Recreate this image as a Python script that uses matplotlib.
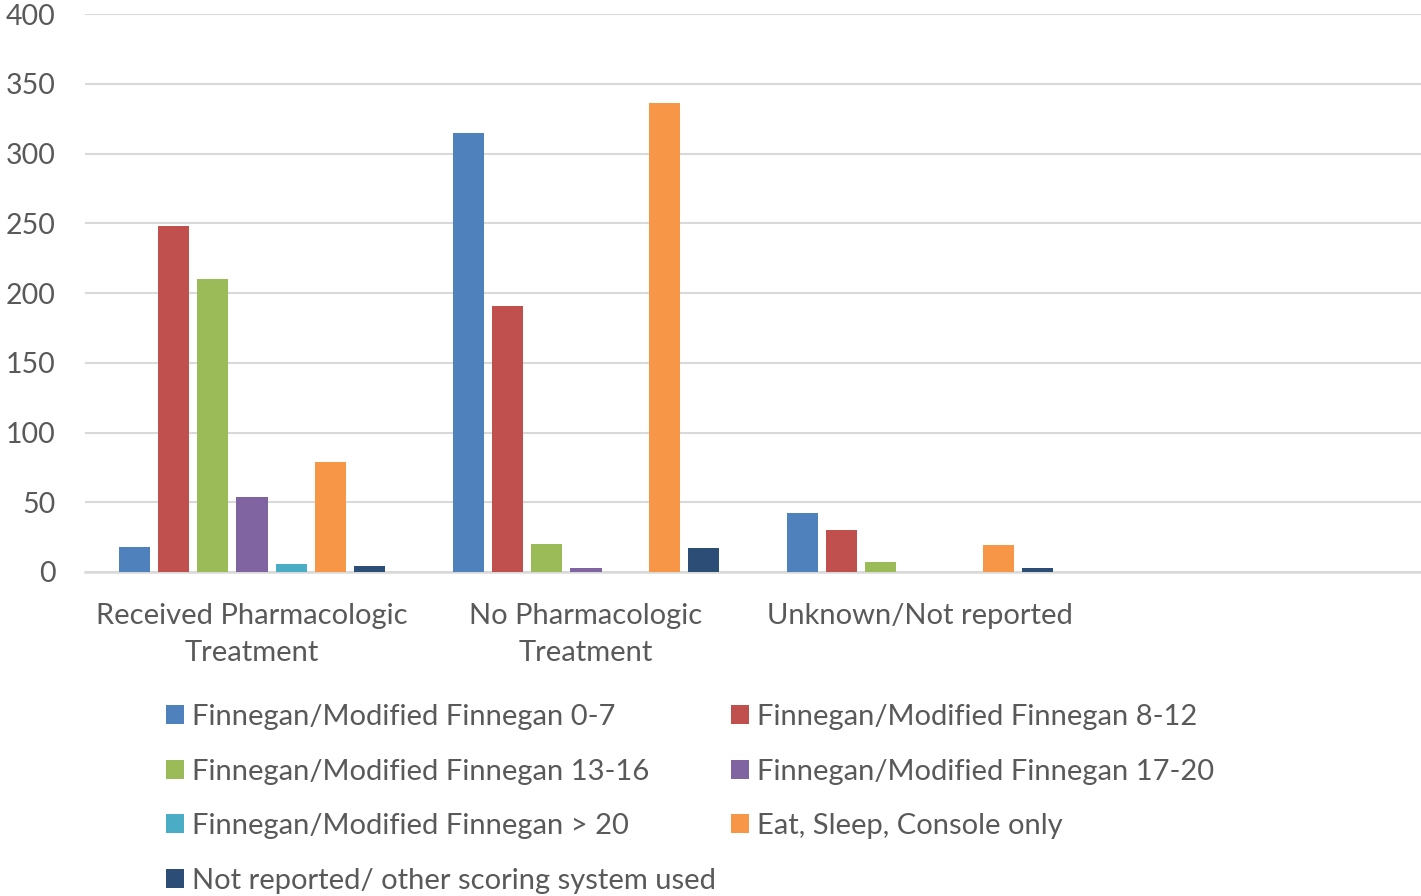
import numpy as np
import matplotlib
matplotlib.use("Agg")
import matplotlib.pyplot as plt

plt.rcParams['font.family'] = ['Lato', 'DejaVu Sans']

categories = ["Received Pharmacologic\nTreatment", "No Pharmacologic\nTreatment",
              "Unknown/Not reported", ""]
series = [
    "Finnegan/Modified Finnegan 0-7",
    "Finnegan/Modified Finnegan 8-12",
    "Finnegan/Modified Finnegan 13-16",
    "Finnegan/Modified Finnegan 17-20",
    "Finnegan/Modified Finnegan > 20",
    "Eat, Sleep, Console only",
    "Not reported/ other scoring system used",
]
fin_0_7 = [18, 315, 42, 0]
fin_8_12 = [248, 191, 30, 0]
fin_13_16 = [210, 20, 7, 0]
fin_17_20 = [54, 3, 0, 0]
fin_gt20 = [6, 0, 0, 0]
esc_only = [79, 336, 19, 0]
not_reported = [4, 17, 3, 0]
values = [fin_0_7, fin_8_12, fin_13_16, fin_17_20, fin_gt20, esc_only, not_reported]
colors = ["#4F81BD", "#C0504D", "#9BBB59", "#8064A2", "#4BACC6", "#F79646", "#2C4D75"]

text_color = "#595959"
grid_color = "#D9D9D9"

fig = plt.figure(figsize=(14.21, 8.96), dpi=100)
ax = fig.add_axes([85 / 1421, 1 - 572 / 896, 1 - 85 / 1421, (572 - 14) / 896])

x = np.arange(len(categories))
step = 0.1177
width = 0.093
bars = []
for i, (vals, c) in enumerate(zip(values, colors)):
    offs = (i - 3) * step
    b = ax.bar(x + offs, vals, width=width, color=c, label=series[i], zorder=3)
    bars.append(b)

ax.set_xlim(-0.5, len(categories) - 0.5)
ax.set_ylim(0, 400)
ax.set_yticks(range(0, 401, 50))
ax.yaxis.grid(True, color=grid_color, linewidth=1.5, zorder=0)
for s in ["left", "right", "top"]:
    ax.spines[s].set_visible(False)
ax.spines["bottom"].set_color(grid_color)
ax.spines["bottom"].set_linewidth(1.8)
ax.tick_params(axis="both", length=0, colors=text_color)
ax.tick_params(axis="y", pad=21, labelsize=20.5)
ax.tick_params(axis="x", pad=22, labelsize=21)
ax.set_xticks(x)
ax.set_xticklabels(categories, linespacing=1.54)

# legend laid out row by row in two columns
leg_kw = dict(frameon=False, fontsize=21, handlelength=0.62, handleheight=0.62,
              handletextpad=0.28, labelspacing=0.98, labelcolor=text_color,
              loc="upper left", borderaxespad=0, borderpad=0)
left = [0, 2, 4, 6]
right = [1, 3, 5]
leg1 = fig.legend([bars[i] for i in left], [series[i] for i in left],
                  bbox_to_anchor=(166 / 1421, 1 - 704 / 896), **leg_kw)
leg2 = fig.legend([bars[i] for i in right], [series[i] for i in right],
                  bbox_to_anchor=(731 / 1421, 1 - 704 / 896), **leg_kw)

fig.savefig("out.png", dpi=100)
